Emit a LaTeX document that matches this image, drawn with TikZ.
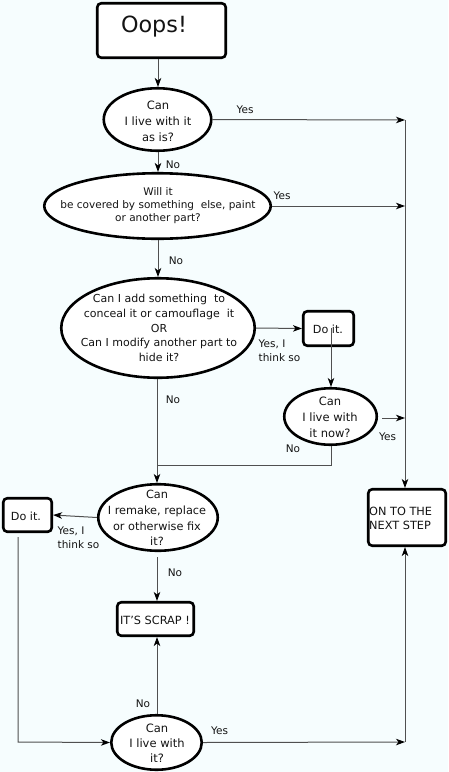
\documentclass[tikz,border=0pt]{standalone}
\usepackage{fontspec}
\setmainfont{DejaVu Sans}
\usetikzlibrary{arrows.meta,shapes.geometric,calc}
\definecolor{bgc}{RGB}{246,253,254}
\definecolor{linec}{RGB}{80,80,80}
\definecolor{txtc}{RGB}{20,20,20}
\newcommand{\fs}[2]{\fontsize{#1}{#2}\selectfont}
\begin{document}
\begin{tikzpicture}[x=1pt,y=-1pt,
  box/.style={draw=black,line width=2.6pt,rounded corners=4pt,fill=white,inner sep=0pt,text=txtc},
  qell/.style={draw=black,line width=2.6pt,ellipse,fill=white,inner sep=0pt},
  qtext/.style={align=center,inner sep=0pt,text=txtc},
  lbl/.style={inner sep=0pt,text=txtc,font=\fs{10.5}{14}},
  conn/.style={draw=linec,line width=1pt},
  arr/.style={conn,-{Stealth[length=9pt,width=6.5pt,inset=2.5pt,color=black]}}
]
\fill[bgc] (0,0) rectangle (448,772);
\useasboundingbox (0,0) rectangle (448,772);

% nodes
\node[box,minimum width=128.5,minimum height=54.5] (oops) at (161.5,30.5) {};
\node[qtext,font=\fs{22.3}{26}] (oopst) at (154,27) {Oops!};

\node[qell,minimum width=107.5,minimum height=62.5] (e1) at (157.5,119.5) {};
\node[qtext,font=\fs{11.5}{16}] (e1t) at (158,121) {Can\\I live with it\\as is?};

\node[qell,minimum width=226.5,minimum height=65.5] (e2) at (157.5,206) {};
\node[qtext,font=\fs{10.5}{12.7}] (e2t) at (158,205.5) {Will it\\be covered by something\ \ else, paint\\or another part?};

\node[qell,minimum width=193.5,minimum height=99.5] (e3) at (158,328) {};
\node[qtext,font=\fs{11}{14.7}] (e3t) at (159,328) {Can I add something\ \ to\\conceal it or camouflage\ \ it\\OR\\Can I modify another part to\\hide it?};

\node[box,minimum width=50.5,minimum height=34.5] (d1) at (328.5,328.5) {};
\node[qtext,font=\fs{11.2}{14}] (d1t) at (328,329.5) {Do it.};

\node[qell,minimum width=92.5,minimum height=56.5] (e4) at (330.5,416.5) {};
\node[qtext,font=\fs{11.5}{16}] (e4t) at (330,417) {Can\\I live with\\it now?};

\node[qell,minimum width=119.5,minimum height=66.5] (e5) at (158,517.5) {};
\node[qtext,font=\fs{11.3}{15.6}] (e5t) at (157,518) {Can\\I remake, replace\\or otherwise fix\\it?};

\node[box,minimum width=48.5,minimum height=33.5] (d2) at (27.5,515) {};
\node[qtext,font=\fs{11.2}{14}] (d2t) at (26,516) {Do it.};

\node[box,minimum width=76.5,minimum height=33.5] (scrap) at (155.5,619) {};
\node[qtext,font=\fs{11.3}{14}] (scrapt) at (155,620) {IT'S SCRAP !};

\node[qell,minimum width=90.5,minimum height=54.5] (e6) at (156.5,742.5) {};
\node[qtext,font=\fs{11.5}{15.2}] (e6t) at (157,743.5) {Can\\I live with\\it?};

\node[box,minimum width=77.5,minimum height=56.5] (next) at (407,517.5) {};
\node[qtext,align=left,font=\fs{11.3}{13.8},anchor=west] (nextt) at (369,518) {ON TO THE\\NEXT STEP};

% labels
\node[lbl] (y1) at (245,110) {Yes};
\node[lbl] (n1) at (173,164.5) {No};
\node[lbl] (y2) at (282,195.5) {Yes};
\node[lbl] (n2) at (176,260.5) {No};
\node[lbl,align=left,anchor=west] (y3) at (258.5,351) {Yes, I\\think so};
\node[lbl] (n3) at (173,400) {No};
\node[lbl] (y4) at (387.5,437) {Yes};
\node[lbl] (n4) at (293,449) {No};
\node[lbl,align=left,anchor=west] (y5) at (57.5,538) {Yes, I\\think so};
\node[lbl] (n5) at (175,573) {No};
\node[lbl] (n6) at (143,704) {No};
\node[lbl] (y6) at (219.5,730.5) {Yes};

% helper coordinates
\coordinate (r1) at (405,120);
\coordinate (r2) at (405,206);
\coordinate (a4) at (382,418);
\coordinate (r4) at (405,418);
\coordinate (r6) at (405,742);
\coordinate (d1c) at (331,328);
\coordinate (m4) at (331,465);
\coordinate (m3) at (157,465);
\coordinate (d2b) at (18,537);
\coordinate (d2c) at (18,742);
\coordinate (s5) at (157,557);

% connectors
\draw[arr] (oops.south -| e1t) -- (e1.north -| e1t);
\draw[arr] (e1.east) -- (r1);
\draw[arr] (e1.south -| e1t) -- (e2.north -| e1t);
\draw[arr] (e2.east) -- (r2);
\draw[arr] (e2.south -| e1t) -- (e3.north -| e1t);
\draw[arr] (e3.east) -- (d1.west);
\draw[arr] (d1c) -- (e4.north -| d1c);
\draw[arr] (a4) -- (r4);
\draw[conn] (e4.south -| d1c) -- (m4) -- (m3);
\draw[arr] (e3.south -| m3) -- (e5.north -| m3);
\draw[arr] (e5.west) -- (d2.east);
\draw[arr] (d2b) -- (d2c) -- (e6.west);
\draw[arr] (s5) -- (scrap.north -| s5);
\draw[arr] (e6.north -| s5) -- (scrap.south -| s5);
\draw[arr] (e6.east) -- (r6);
\draw[arr] (r1) -- (next.north -| r1);
\draw[arr] (r6) -- (next.south -| r6);
\end{tikzpicture}
\end{document}
